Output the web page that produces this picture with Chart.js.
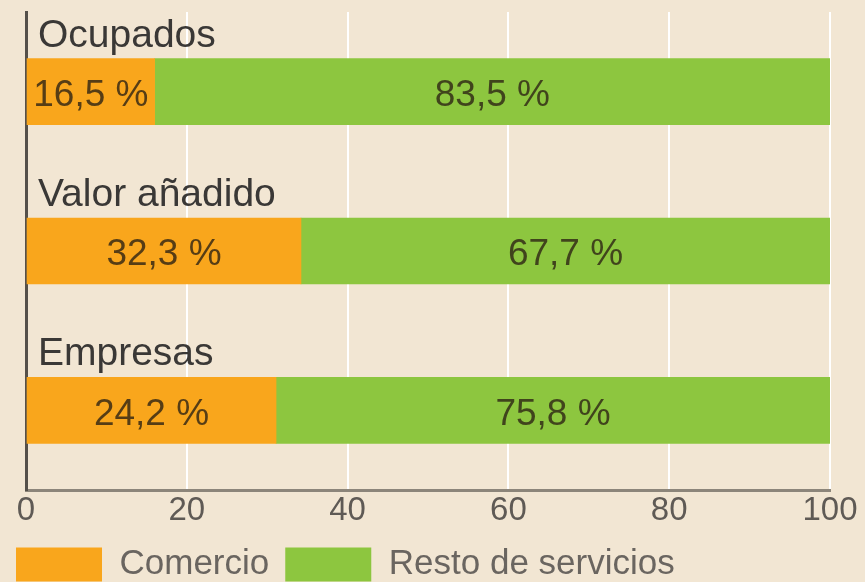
<!DOCTYPE html>
<html>
<head>
<meta charset="utf-8">
<script src="https://cdn.jsdelivr.net/npm/chart.js@4"></script>
<style>
  html, body { margin: 0; padding: 0; background: #f2e6d3; overflow: hidden; }
  #wrap { width: 865px; height: 592px; position: relative; }
</style>
</head>
<body>
<div id="wrap"><canvas id="chart"></canvas></div>
<script>
// categories and series
const categories = ["Ocupados", "Valor añadido", "Empresas"];
const seriesNames = ["Comercio", "Resto de servicios"];
// bar lengths as drawn
const comercio = [16.0, 34.2, 31.1];
const resto = [84.0, 65.8, 68.9];
// values printed on the bars
const comercioText = ["16,5 %", "32,3 %", "24,2 %"];
const restoText = ["83,5 %", "67,7 %", "75,8 %"];
const xTicks = [0, 20, 40, 60, 80, 100];

const FONT = "'Liberation Sans', Arial, sans-serif";
const BG = "#f2e6d3";

const background = {
  id: "background",
  beforeDraw(chart) {
    const ctx = chart.ctx;
    ctx.save();
    ctx.fillStyle = BG;
    ctx.fillRect(0, 0, chart.width, chart.height);
    ctx.restore();
  }
};

const barText = {
  id: "barText",
  afterDatasetsDraw(chart) {
    const ctx = chart.ctx;
    const texts = [comercioText, restoText];
    ctx.save();
    ctx.textAlign = "center";
    ctx.textBaseline = "middle";
    ctx.font = "37px " + FONT;
    ctx.fillStyle = "rgba(45,35,20,0.8)";
    chart.data.datasets.forEach((ds, i) => {
      chart.getDatasetMeta(i).data.forEach((bar, j) => {
        ctx.fillText(texts[i][j], (bar.x + bar.base) / 2, bar.y + 4);
      });
    });
    // category names above each bar
    ctx.textAlign = "left";
    ctx.textBaseline = "alphabetic";
    ctx.font = "39px " + FONT;
    ctx.fillStyle = "#3a3836";
    chart.getDatasetMeta(0).data.forEach((bar, j) => {
      ctx.fillText(categories[j], chart.chartArea.left + 12, bar.y - bar.height / 2 - 12);
    });
    ctx.restore();
  }
};

new Chart(document.getElementById("chart"), {
  type: "bar",
  data: {
    labels: categories,
    datasets: [
      { label: seriesNames[0], data: comercio, backgroundColor: "#f9a61c", borderWidth: 0 },
      { label: seriesNames[1], data: resto, backgroundColor: "#8dc63f", borderWidth: 0 }
    ]
  },
  options: {
    indexAxis: "y",
    responsive: true,
    maintainAspectRatio: false,
    animation: false,
    datasets: { bar: { barThickness: 66 } },
    layout: { padding: { left: 0, right: 35, top: 12, bottom: 0 } },
    scales: {
      x: {
        stacked: true,
        min: 0,
        max: 100,
        afterBuildTicks: axis => { axis.ticks = xTicks.map(v => ({ value: v })); },
        grid: { color: "#ffffff", lineWidth: 2, drawTicks: false },
        border: { display: true, color: "#8c857a", width: 3 },
        ticks: { padding: 4, color: "#5f5a55", font: { family: FONT, size: 33, lineHeight: 1.0 } }
      },
      y: {
        stacked: true,
        afterFit: axis => { axis.width = 26; },
        grid: { display: false, drawTicks: false },
        border: { display: true, color: "#55504a", width: 3 },
        ticks: { display: false }
      }
    },
    plugins: {
      tooltip: { enabled: false },
      legend: {
        position: "bottom",
        align: "start",
        labels: {
          boxWidth: 86,
          boxHeight: 34,
          padding: 16,
          color: "#6a6560",
          font: { family: FONT, size: 35 }
        }
      }
    }
  },
  plugins: [background, barText]
});
</script>
</body>
</html>
